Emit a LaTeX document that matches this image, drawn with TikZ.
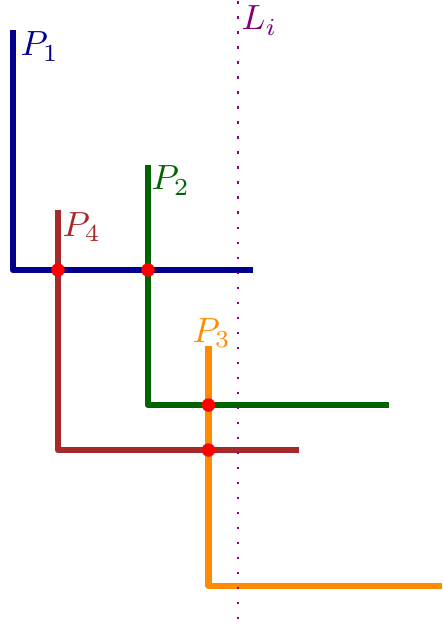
\documentclass[tikz,border=0pt]{standalone}
\usepackage{amsmath}
\definecolor{cblue}{RGB}{0,0,140}
\definecolor{cgreen}{RGB}{0,100,0}
\definecolor{cbrown}{RGB}{165,42,42}
\definecolor{corange}{RGB}{255,140,0}
\definecolor{cpurple}{RGB}{128,0,128}
\begin{document}
\begin{tikzpicture}[x=1pt,y=-1pt,
  pline/.style={line width=6.3pt,line join=round},
  lab/.style={anchor=base west,inner sep=0pt,scale=3.5},
  cross/.style={circle,fill=red,inner sep=0pt,minimum size=13.5pt}]
\useasboundingbox (0,0) rectangle (442,628);
% P1
\coordinate (a1) at (13,30);
\coordinate (b1) at (13,270);
\coordinate (c1) at (253,270);
\draw[pline,cblue] (a1) -- (b1) -- (c1);
% P2
\coordinate (a2) at (148,165);
\coordinate (b2) at (148,405);
\coordinate (c2) at (389,405);
\draw[pline,cgreen] (a2) -- (b2) -- (c2);
% P4
\coordinate (a4) at (58,210);
\coordinate (b4) at (58,450);
\coordinate (c4) at (299,450);
\draw[pline,cbrown] (a4) -- (b4) -- (c4);
% P3
\coordinate (a3) at (208.5,346);
\coordinate (b3) at (208.5,586);
\coordinate (c3) at (442,586);
\draw[pline,corange] (a3) -- (b3) -- (c3);
% labels
\node[lab,text=cblue] (l1) at (20,56) {$P_1$};
\node[lab,text=cgreen] (l2) at (151,190) {$P_2$};
\node[lab,text=cbrown] (l4) at (62,236) {$P_4$};
\node[lab,text=corange] (l3) at (192,342) {$P_3$};
% dotted line
\coordinate (lt) at (238,1.5);
\coordinate (lb) at (238,628);
\draw[cpurple,line width=2.6pt,dash pattern=on 2.6pt off 12.4pt] (lt) -- (lb);
\node[lab,text=cpurple] (li) at (241,30) {$L_i$};
% intersections
\node[cross] (x1) at (58,270) {};
\node[cross] (x2) at (148,270) {};
\node[cross] (x3) at (208.5,405) {};
\node[cross] (x4) at (208.5,450) {};
\end{tikzpicture}
\end{document}
